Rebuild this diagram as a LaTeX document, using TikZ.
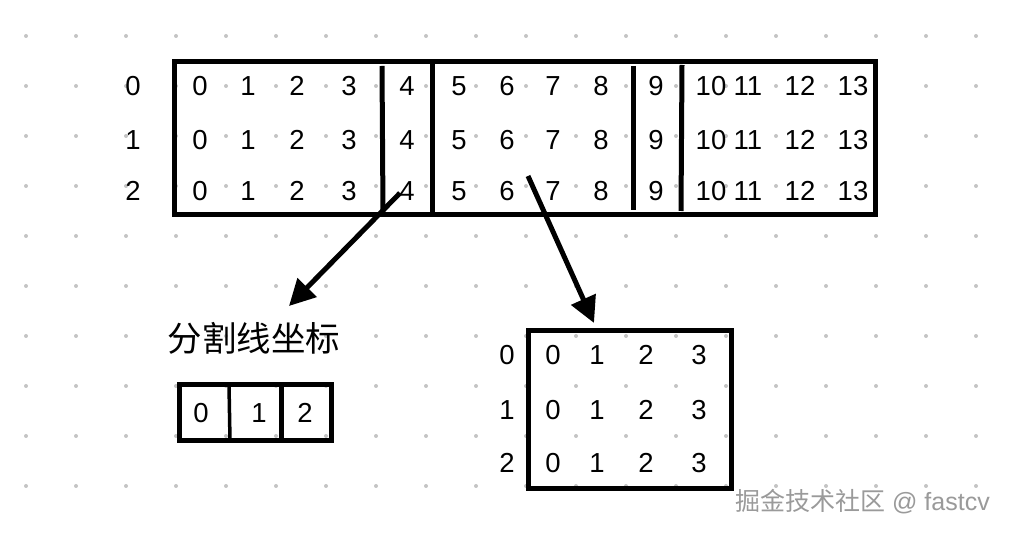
\documentclass[tikz,border=0pt]{standalone}
\usepackage{fontspec}
\setmainfont{Liberation Sans}
\newfontfamily\cjk{Noto Sans CJK SC}
\usetikzlibrary{arrows.meta}
\definecolor{dotgray}{HTML}{C4C4C4}
\definecolor{wmgray}{HTML}{9A9A9A}
\begin{document}
\begin{tikzpicture}[x=1pt,y=-1pt,
  num/.style={inner sep=0pt,font=\fontsize{27.5}{27.5}\selectfont},
  box/.style={draw=black,line width=5pt},
  divider/.style={draw=black,line width=5pt},
  thindiv/.style={draw=black,line width=3.5pt},
  bigarrow/.style={draw=black,line width=5pt,-{Triangle[length=26pt,width=26pt]}}]
\useasboundingbox (0,0) rectangle (1010,534);
\fill[white] (0,0) rectangle (1010,534);
% dot grid
\foreach \i in {0,...,19}{
  \foreach \j in {0,...,9}{
    \fill[dotgray] ({26+50*\i},{36+50*\j}) circle (2pt);
  }
}
% top box
\draw[box] (174,62) rectangle (875,215);
\draw[divider] (382,66) -- (383,213);
\draw[divider] (432,62) -- (432,215);
\draw[divider] (633,66) -- (633,210);
\draw[divider] (682,65) -- (681,211);
\foreach \r/\y in {0/86,1/140,2/191}{
  \node[num] (rl\r) at (133,\y) {\r};
}
\foreach \c/\x in {0/200,1/248,2/297,3/349,4/407,5/459,6/507,7/553,8/601,9/656,10/711,11/748,12/800,13/853}{
  \node[num] (ta\c) at (\x,86) {\c};
  \node[num] (tb\c) at (\x,140) {\c};
  \node[num] (tc\c) at (\x,191) {\c};
}
% label
\node[inner sep=0pt,font=\cjk\fontsize{34.5}{34.5}\selectfont] (lbl) at (254,338) {分割线坐标};
% small box
\draw[box] (179,385) rectangle (331,441);
\draw[thindiv] (229,385) -- (230,441);
\draw[divider] (281,387) -- (281,439);
\node[num] (s0) at (201,413) {0};
\node[num] (s1) at (259,413) {1};
\node[num] (s2) at (305,413) {2};
% right box
\draw[box] (528,331) rectangle (731,489);
\foreach \r/\y in {0/355,1/410,2/463}{
  \node[num] (rr\r) at (507,\y) {\r};
  \foreach \c/\x in {0/553,1/597,2/646,3/699}{
    \node[num] (b\r\c) at (\x,\y) {\c};
  }
}
% arrows
\coordinate (a1s) at (400,193);
\coordinate (a1e) at (289,306);
\coordinate (a2s) at (528,176);
\coordinate (a2e) at (594,323);
\draw[bigarrow] (a1s) -- (a1e);
\draw[bigarrow] (a2s) -- (a2e);
% watermark
\node[inner sep=0pt,anchor=west,text=wmgray,font=\fontsize{25}{25}\selectfont] (wm) at (735,502) {{\cjk 掘金技术社区} @ fastcv};
\end{tikzpicture}
\end{document}
